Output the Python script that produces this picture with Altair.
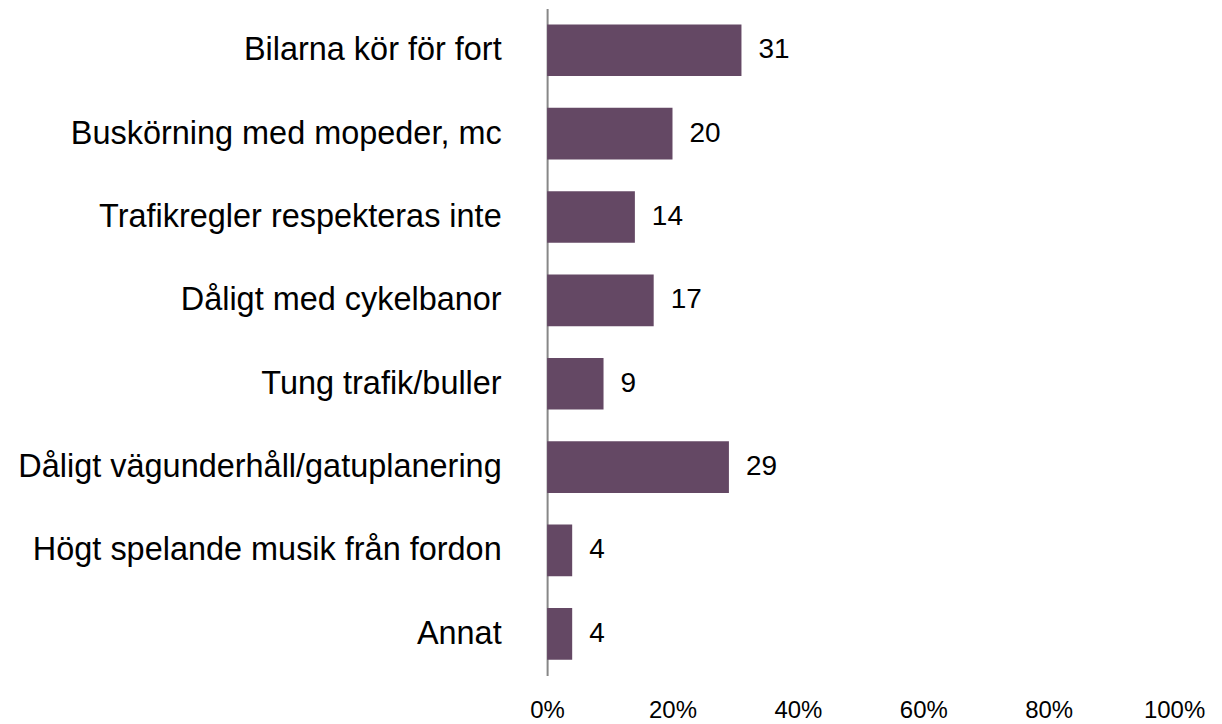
import altair as alt
import pandas as pd

categories = [
    "Bilarna kör för fort",
    "Buskörning med mopeder, mc",
    "Trafikregler respekteras inte",
    "Dåligt med cykelbanor",
    "Tung trafik/buller",
    "Dåligt vägunderhåll/gatuplanering",
    "Högt spelande musik från fordon",
    "Annat",
]
values = [31, 20, 14, 17, 9, 29, 4, 4]
x_ticks = [0, 20, 40, 60, 80, 100]

df = pd.DataFrame({"cat": categories, "val": values})

FONT = "Liberation Sans"

y_enc = alt.Y(
    "cat:N",
    sort=categories,
    scale=alt.Scale(paddingInner=0.38, paddingOuter=0.19),
    axis=alt.Axis(
        title=None,
        ticks=False,
        domain=True,
        domainColor="#878787",
        domainWidth=2,
        labelFont=FONT,
        labelFontSize=32.5,
        labelColor="#000000",
        labelPadding=46,
        labelLimit=700,
        grid=False,
    ),
)

x_enc = alt.X(
    "val:Q",
    scale=alt.Scale(domain=[0, 100], nice=False),
    axis=alt.Axis(
        title=None,
        values=x_ticks,
        labelExpr="datum.value + '%'",
        ticks=False,
        domain=False,
        grid=False,
        labelFont=FONT,
        labelFontSize=24,
        labelColor="#000000",
        labelPadding=23,
        labelFlush=False,
    ),
)

bars = alt.Chart(df).mark_bar(color="#644864").encode(x=x_enc, y=y_enc)

labels = alt.Chart(df).mark_text(
    align="left", baseline="middle", dx=17, font=FONT, fontSize=28, color="#000000"
).encode(x=alt.X("val:Q"), y=alt.Y("cat:N", sort=categories), text="val:Q")

chart = (
    alt.layer(bars, labels)
    .properties(
        width=628,
        height=668,
        background="white",
        autosize=alt.AutoSizeParams(type="none"),
        padding={"left": 540, "top": 0, "right": 40, "bottom": 46},
    )
    .configure_view(strokeWidth=0, stroke="transparent")
)

chart.save("out.html", embed_options={"renderer": "svg", "actions": False})
